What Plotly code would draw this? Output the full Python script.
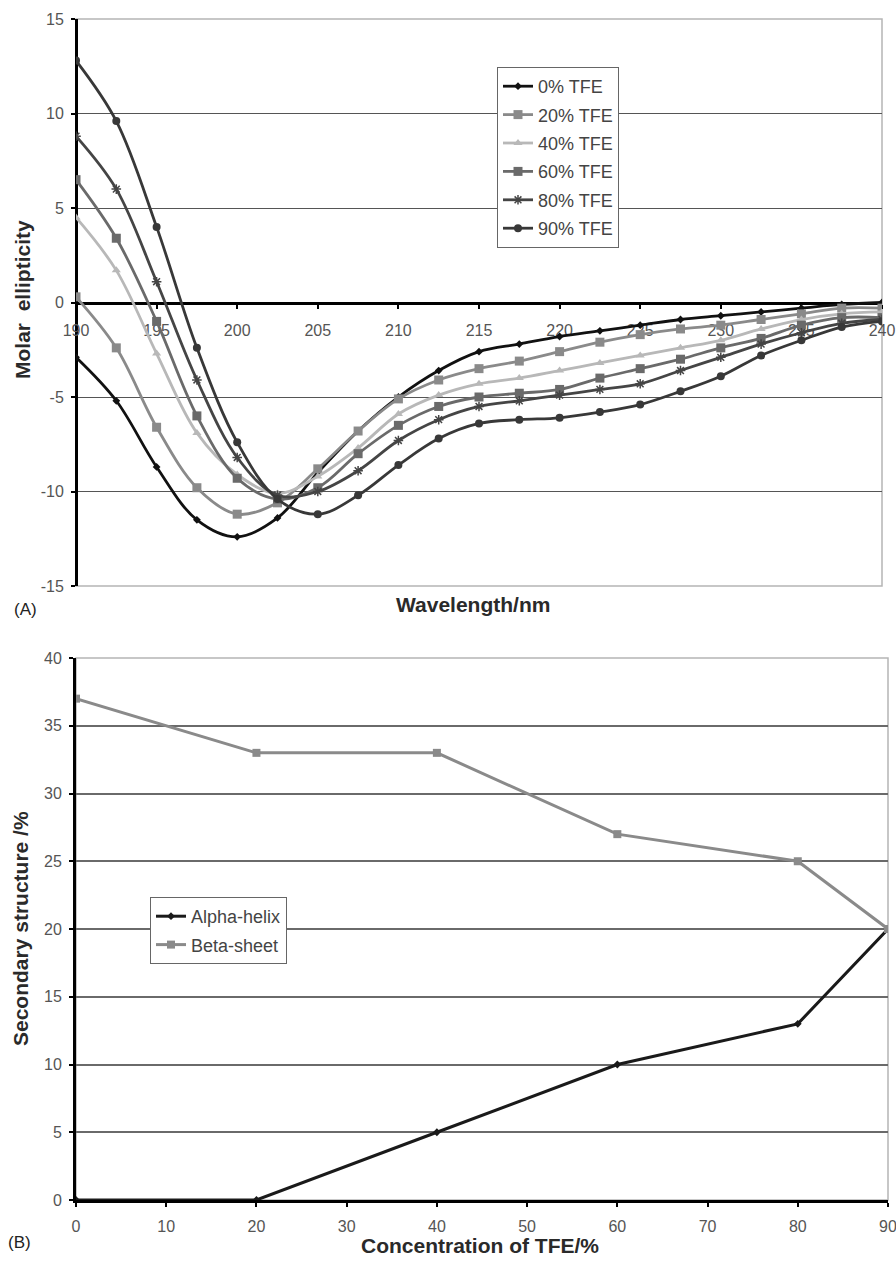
import plotly.graph_objects as go

# ---------------- Data: panel (A) CD spectra ----------------
wavelength = [190, 192.5, 195, 197.5, 200, 202.5, 205, 207.5, 210, 212.5, 215,
              217.5, 220, 222.5, 225, 227.5, 230, 232.5, 235, 237.5, 240]
tfe_0 = [-2.9, -5.2, -8.7, -11.5, -12.4, -11.4, -9.0, -6.8, -5.0, -3.6, -2.6,
         -2.2, -1.8, -1.5, -1.2, -0.9, -0.7, -0.5, -0.3, -0.1, 0.0]
tfe_20 = [0.3, -2.4, -6.6, -9.8, -11.2, -10.6, -8.8, -6.8, -5.1, -4.1, -3.5,
          -3.1, -2.6, -2.1, -1.7, -1.4, -1.2, -0.9, -0.6, -0.3, -0.3]
tfe_40 = [4.5, 1.7, -2.7, -6.9, -9.1, -10.1, -9.2, -7.7, -5.9, -4.9, -4.3,
          -4.0, -3.6, -3.2, -2.8, -2.4, -2.0, -1.4, -0.9, -0.6, -0.5]
tfe_60 = [6.5, 3.4, -1.0, -6.0, -9.3, -10.4, -9.8, -8.0, -6.5, -5.5, -5.0,
          -4.8, -4.6, -4.0, -3.5, -3.0, -2.4, -1.9, -1.2, -0.8, -0.8]
tfe_80 = [8.8, 6.0, 1.1, -4.1, -8.2, -10.2, -10.0, -8.9, -7.3, -6.2, -5.5,
          -5.2, -4.9, -4.6, -4.3, -3.6, -2.9, -2.2, -1.6, -1.1, -0.9]
tfe_90 = [12.8, 9.6, 4.0, -2.4, -7.4, -10.4, -11.2, -10.2, -8.6, -7.2, -6.4,
          -6.2, -6.1, -5.8, -5.4, -4.7, -3.9, -2.8, -2.0, -1.3, -1.0]
series_names_a = ["0% TFE", "20% TFE", "40% TFE", "60% TFE", "80% TFE", "90% TFE"]

wl_ticks = [190, 195, 200, 205, 210, 215, 220, 225, 230, 235, 240]
ya_ticks = [-15, -10, -5, 0, 5, 10, 15]
ya_ticktext = ["-15", "-10", "-5", "0", "5", "10", "15"]
ya_grid = [-10, -5, 5, 10]

# ---------------- Data: panel (B) secondary structure ----------------
tfe_conc = [0, 20, 40, 60, 80, 90]
alpha_helix = [0, 0, 5, 10, 13, 20]
beta_sheet = [37, 33, 33, 27, 25, 20]
series_names_b = ["Alpha-helix", "Beta-sheet"]
xb_ticks = [0, 10, 20, 30, 40, 50, 60, 70, 80, 90]
yb_ticks = [0, 5, 10, 15, 20, 25, 30, 35, 40]
yb_grid = [5, 10, 15, 20, 25, 30, 35]

# ---------------- Styling ----------------
FONT = "Liberation Sans, Arial, sans-serif"
W, H = 896, 1262

styles_a = [
    dict(color="#111111", symbol="diamond", size=6),
    dict(color="#8a8a8a", symbol="square", size=9),
    dict(color="#b8b8b8", symbol="triangle-up", size=8),
    dict(color="#6a6a6a", symbol="square", size=9),
    dict(color="#454545", symbol="asterisk-open", size=8),
    dict(color="#383838", symbol="circle", size=8),
]

fig = go.Figure()
for name, ys, st in zip(series_names_a, [tfe_0, tfe_20, tfe_40, tfe_60, tfe_80, tfe_90], styles_a):
    mk = dict(color=st["color"], symbol=st["symbol"], size=st["size"])
    if st["symbol"] == "asterisk-open":
        mk["line"] = dict(color=st["color"], width=1.5)
    fig.add_trace(go.Scatter(
        x=wavelength, y=ys, name=name, mode="lines+markers",
        line=dict(color=st["color"], width=2.8, shape="spline", smoothing=1.0),
        marker=mk, xaxis="x", yaxis="y", legend="legend", legendgroup=name,
    ))

fig.add_trace(go.Scatter(
    x=tfe_conc, y=alpha_helix, name=series_names_b[0], mode="lines+markers",
    line=dict(color="#1a1a1a", width=3), marker=dict(color="#1a1a1a", symbol="diamond", size=6),
    xaxis="x2", yaxis="y2", legend="legend2", legendgroup="a",
))
fig.add_trace(go.Scatter(
    x=tfe_conc, y=beta_sheet, name=series_names_b[1], mode="lines+markers",
    line=dict(color="#8a8a8a", width=3), marker=dict(color="#8a8a8a", symbol="square", size=8),
    xaxis="x2", yaxis="y2", legend="legend2", legendgroup="b",
))

# domains in paper coordinates
xa_dom = [76 / W, 882 / W]
ya_dom = [1 - 586 / H, 1 - 19 / H]
xb_dom = [76 / W, 888 / W]
yb_dom = [1 - 1200 / H, 1 - 658 / H]
zero_pos = ya_dom[0] + 0.5 * (ya_dom[1] - ya_dom[0])

tickfont = dict(family=FONT, size=16, color="#555555")

fig.update_layout(
    width=W, height=H,
    margin=dict(l=0, r=0, t=0, b=0),
    paper_bgcolor="white", plot_bgcolor="white",
    font=dict(family=FONT, color="#333333"),
    xaxis=dict(
        domain=xa_dom, range=[190, 240], anchor="free", position=zero_pos,
        tickvals=wl_ticks, tickfont=tickfont, ticks="outside", ticklen=4, tickwidth=2,
        tickcolor="black", showline=True, linecolor="black", linewidth=3,
        showgrid=False, zeroline=False, layer="below traces", ticklabelstandoff=8,
        automargin=False, ticklabeloverflow="allow",
    ),
    yaxis=dict(
        domain=ya_dom, range=[-15, 15], anchor="free", position=xa_dom[0],
        tickvals=ya_ticks, ticktext=ya_ticktext, tickfont=tickfont, ticks="outside",
        ticklen=4, tickwidth=2, tickcolor="black", showline=True, linecolor="black",
        linewidth=3, showgrid=False, zeroline=False,
        minor=dict(tickvals=ya_grid, showgrid=True, gridcolor="#555555", gridwidth=1, ticks=""),
        layer="below traces", ticklabelstandoff=4, automargin=False,
        ticklabeloverflow="allow",
    ),
    xaxis2=dict(
        domain=xb_dom, range=[0, 90], anchor="y2", tickvals=xb_ticks, tickfont=tickfont,
        ticks="outside", ticklen=4, tickwidth=2, tickcolor="black", showline=True,
        linecolor="black", linewidth=3, showgrid=False, zeroline=False,
        ticklabelstandoff=6, automargin=False, ticklabeloverflow="allow",
    ),
    yaxis2=dict(
        domain=yb_dom, range=[0, 40], anchor="x2", tickvals=yb_ticks, tickfont=tickfont,
        ticks="outside", ticklen=4, tickwidth=2, tickcolor="black", showline=True,
        linecolor="black", linewidth=3, showgrid=False,
        minor=dict(tickvals=yb_grid, showgrid=True, gridcolor="#6a6a6a", gridwidth=1.5, ticks=""),
        zeroline=False, ticklabelstandoff=4, automargin=False, ticklabeloverflow="allow",
    ),
    legend=dict(
        x=497 / W, y=1 - 67 / H, xanchor="left", yanchor="top",
        bgcolor="white", bordercolor="#666666", borderwidth=1,
        font=dict(family=FONT, size=18, color="#444444"), tracegroupgap=2,
        itemwidth=30,
    ),
    legend2=dict(
        x=150 / W, y=1 - 897 / H, xanchor="left", yanchor="top",
        bgcolor="white", bordercolor="#666666", borderwidth=1,
        font=dict(family=FONT, size=18, color="#444444"), tracegroupgap=2,
        itemwidth=30,
    ),
    shapes=[
        dict(type="rect", xref="paper", yref="paper",
             x0=xa_dom[0], x1=xa_dom[1], y0=ya_dom[0], y1=ya_dom[1],
             line=dict(color="#b5b5b5", width=1.5), layer="below"),
        dict(type="rect", xref="paper", yref="paper",
             x0=xb_dom[0], x1=xb_dom[1], y0=yb_dom[0], y1=yb_dom[1],
             line=dict(color="#b5b5b5", width=1.5), layer="below"),
    ],
    showlegend=True,
)

title_font = dict(family=FONT, size=21, color="#2a2a2a")
label_font = dict(family=FONT, size=17, color="#222222")
fig.add_annotation(text="<b>Molar  ellipticity</b>", x=22 / W, y=1 - 300 / H, xref="paper", yref="paper",
                   textangle=-90, showarrow=False, font=title_font, xanchor="center", yanchor="middle")
fig.add_annotation(text="<b>Wavelength/nm</b>", x=473 / W, y=1 - 605 / H, xref="paper", yref="paper",
                   showarrow=False, font=title_font, xanchor="center", yanchor="middle")
fig.add_annotation(text="(A)", x=12 / W, y=1 - 609 / H, xref="paper", yref="paper",
                   showarrow=False, font=label_font, xanchor="left", yanchor="middle")
fig.add_annotation(text="<b>Secondary structure /%</b>", x=21 / W, y=1 - 929 / H, xref="paper", yref="paper",
                   textangle=-90, showarrow=False, font=title_font, xanchor="center", yanchor="middle")
fig.add_annotation(text="<b>Concentration of TFE/%</b>", x=480 / W, y=1 - 1245 / H, xref="paper", yref="paper",
                   showarrow=False, font=title_font, xanchor="center", yanchor="middle")
fig.add_annotation(text="(B)", x=6 / W, y=1 - 1242 / H, xref="paper", yref="paper",
                   showarrow=False, font=label_font, xanchor="left", yanchor="middle")

fig.write_html("out.html")
